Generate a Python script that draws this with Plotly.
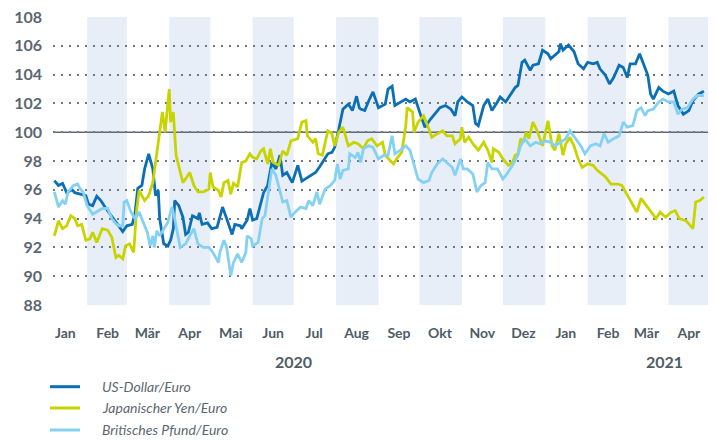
import pandas as pd
import plotly.graph_objects as go

# ---- data (day = days since 2020-01-01, value = index) ----
usd_days = [7,10,13,16,20,22,26,30,32,35,38,41,44,48,50,54,57,60,64,66,68,71,73,76,79,81,83,84,87,90,92,94,95,98,101,103,105,108,112,113,115,119,122,126,130,133,137,139,143,144,148,150,152,155,157,160,163,166,169,172,174,177,181,185,188,193,198,201,207,210,212,215,218,222,225,228,230,231,234,237,240,244,249,251,254,256,260,264,267,271,275,278,282,286,289,293,297,300,302,305,309,313,315,317,321,324,327,331,333,337,340,344,346,349,351,355,357,361,364,368,370,373,376,377,379,383,387,390,394,397,401,404,406,410,413,416,420,423,426,428,432,435,438,441,443,445,449,452,456,460,463,467,471,474,478,482]
usd_vals = [96.64,96.3,96.45,95.8,96.0,95.8,95.7,95.6,95.0,94.9,95.55,95.25,94.8,94.3,94.0,93.5,93.1,93.5,93.6,94.4,96.1,96.3,97.45,98.5,97.45,95.6,95.95,94.0,92.25,92.1,92.5,93.3,95.25,94.9,94.1,92.9,93.05,94.2,94.0,94.4,93.6,93.7,93.3,93.4,94.8,94.0,92.9,93.6,93.5,93.3,93.9,94.7,93.9,94.0,94.7,95.8,96.3,97.9,97.45,98.4,97.0,97.2,96.5,97.7,96.6,96.9,97.2,97.6,98.5,98.6,98.95,100.2,101.6,101.95,101.5,102.5,101.7,101.6,101.5,102.2,102.8,101.7,101.95,103.0,103.2,101.85,102.1,102.3,102.1,102.3,101.15,100.35,100.9,101.4,101.7,101.85,101.6,101.15,102.1,102.45,102.1,101.85,100.6,100.45,101.85,102.3,101.5,102.1,102.45,102.1,102.55,103.1,103.25,104.85,105.0,104.3,104.65,104.75,105.7,105.45,105.1,105.35,105.6,106.15,105.7,106.05,105.6,104.75,104.4,104.85,104.75,104.85,104.4,103.95,103.35,103.8,104.65,104.5,103.8,104.75,104.75,105.45,104.65,103.95,102.65,102.3,103.1,102.85,102.65,102.85,101.85,101.25,101.5,102.2,102.65,102.85]

jpy_days = [7,10,13,16,19,22,24,27,30,33,35,38,42,46,49,52,54,57,59,62,65,67,69,73,76,79,82,86,88,91,92,94,96,101,104,106,109,112,116,120,121,123,127,129,131,134,136,138,141,144,147,150,152,155,158,160,163,165,167,171,174,177,180,185,188,191,192,196,198,200,203,205,207,210,212,215,218,222,226,229,231,233,236,239,243,247,249,253,255,258,261,264,265,269,270,273,277,281,283,287,291,294,298,300,304,305,307,310,313,317,321,324,327,328,332,335,339,342,344,346,348,350,352,354,357,360,364,368,371,373,376,379,381,384,387,390,393,397,401,404,406,410,414,419,422,426,430,433,436,439,443,447,450,454,458,461,464,469,474,476,479,482]
jpy_vals = [92.8,93.85,93.3,93.5,94.2,94.0,93.5,93.6,92.5,92.6,93.05,92.35,93.3,93.2,92.7,91.3,91.45,91.2,92.1,92.25,91.65,94.45,95.95,95.25,95.6,96.5,98.6,101.4,100.0,103.0,100.7,101.4,98.4,96.5,96.9,97.2,96.3,95.85,95.85,96.05,97.2,96.2,95.95,95.5,96.5,96.65,95.7,96.45,96.2,97.9,98.0,98.5,98.25,98.15,98.7,98.85,97.8,98.85,97.9,97.7,98.7,98.4,99.4,99.55,100.7,100.8,99.75,99.3,99.55,98.5,98.4,99.3,100.1,99.9,99.05,100.0,100.35,99.05,99.3,99.2,99.05,98.85,99.4,99.55,99.05,99.3,98.4,98.0,97.8,98.25,98.6,100.45,101.7,101.4,100.0,100.7,101.15,100.2,99.65,99.9,100.1,99.75,99.75,99.2,99.55,100.35,99.3,99.65,99.2,98.75,99.3,98.75,97.9,98.85,98.6,98.15,97.7,97.9,98.4,98.5,99.55,99.3,100.0,99.55,100.7,100.1,99.05,100.8,99.05,98.75,99.9,98.4,99.2,99.65,99.05,98.15,97.55,97.8,97.7,97.35,97.2,96.9,96.4,96.4,96.3,95.6,95.0,94.45,95.4,95.0,94.55,94.0,94.45,94.1,94.45,94.55,94.0,93.85,93.3,95.15,95.25,95.5]

gbp_days = [7,10,13,15,17,21,24,26,28,31,35,38,42,46,49,52,54,57,58,60,63,66,69,72,75,77,79,80,82,84,87,90,93,95,99,103,106,109,112,116,120,123,127,128,131,133,136,138,141,144,147,148,151,152,156,159,161,163,166,169,171,174,177,180,183,187,191,193,196,199,201,205,209,212,214,216,218,222,223,227,229,231,233,237,240,244,248,251,254,256,260,264,267,270,273,277,281,283,287,291,294,298,300,304,306,309,313,316,319,322,324,327,331,335,338,342,346,348,351,355,359,362,366,370,373,377,381,384,388,392,395,399,403,406,409,412,416,420,423,426,430,433,436,439,441,445,449,452,456,460,463,466,470,474,477,482]
gbp_vals = [95.85,94.8,95.25,95.0,95.85,96.3,96.4,96.05,95.85,94.9,94.3,94.45,94.7,94.7,94.0,93.65,93.5,93.5,95.15,95.25,94.45,94.0,94.45,93.75,93.05,92.1,92.8,92.0,93.15,92.8,93.3,93.75,94.8,94.0,92.0,92.25,92.8,93.3,92.25,92.0,92.0,91.65,90.95,91.65,92.5,92.0,90.05,90.95,91.55,90.95,91.65,92.8,92.6,92.1,92.35,94.0,94.2,95.6,97.45,97.0,96.3,95.15,95.25,94.1,94.45,94.8,94.7,95.25,94.9,95.85,95.0,96.05,96.3,96.65,97.8,96.75,97.35,97.45,98.5,98.25,98.6,97.9,98.85,99.05,98.95,98.15,98.4,98.4,99.75,98.5,98.75,99.05,98.75,97.7,96.75,96.5,96.65,97.2,97.8,98.15,97.9,97.55,97.0,98.15,97.45,97.45,97.1,95.85,96.3,96.5,97.9,97.45,97.45,96.75,97.1,97.7,98.4,99.05,99.55,99.05,99.3,99.2,99.4,99.3,99.05,99.3,99.55,100.1,99.55,99.05,98.5,99.05,99.2,99.05,99.9,99.3,99.55,99.75,100.7,100.35,100.45,101.5,101.7,101.15,101.5,101.6,102.1,102.3,102.1,102.1,101.25,101.6,101.7,102.3,102.55,102.55]

series_names = ["US-Dollar/Euro", "Japanischer Yen/Euro", "Britisches Pfund/Euro"]
series_colors = ["#0b6fb6", "#c8d400", "#85d1f4"]

month_labels = ["Jan", "Feb", "Mär", "Apr", "Mai", "Jun", "Jul", "Aug", "Sep", "Okt", "Nov", "Dez",
                "Jan", "Feb", "Mär", "Apr"]
year_labels = ["2020", "2021"]
y_ticks = list(range(88, 110, 2))

TXT = "#4f5c66"
FONT = "Lato"

base = pd.Timestamp("2020-01-01")
def to_dates(days):
    return [base + pd.Timedelta(days=d) for d in days]

month_starts = pd.date_range("2020-01-01", "2021-05-01", freq="MS")
tick_pos = [m + pd.Timedelta(days=15) for m in month_starts[:16]]

fig = go.Figure()
for days, vals, name, col in zip([usd_days, jpy_days, gbp_days], [usd_vals, jpy_vals, gbp_vals],
                                 series_names, series_colors):
    fig.add_trace(go.Scatter(x=to_dates(days), y=vals, mode="lines", name=name,
                             line=dict(color=col, width=2.8), showlegend=False))

# shaded alternate months
for i in range(1, 16, 2):
    fig.add_shape(type="rect", xref="x", yref="paper", x0=month_starts[i], x1=month_starts[i + 1],
                  y0=0, y1=1, fillcolor="#e7eef8", line_width=0, layer="below")
# reference line at 100
fig.add_shape(type="line", xref="paper", yref="y", x0=0, x1=1, y0=100, y1=100,
              line=dict(color="#5f6b74", width=1.5), layer="between")

# year labels
for yl, xd in zip(year_labels, [pd.Timestamp("2020-07-01"), pd.Timestamp("2021-03-29")]):
    fig.add_annotation(x=xd, xref="x", y=0, yref="paper", yshift=-56,
                       xanchor="center", yanchor="middle",
                       text=yl, showarrow=False,
                       font=dict(family=FONT, size=16, color=TXT, weight="bold"))

# manual legend below the chart
leg_y = [-0.2837, -0.3576, -0.434]
for name, col, ly in zip(series_names, series_colors, leg_y):
    fig.add_shape(type="line", xref="paper", yref="paper", x0=-0.0046, x1=0.0412, y0=ly, y1=ly,
                  line=dict(color=col, width=3))
    fig.add_annotation(x=0.0718, xref="paper", y=ly, yref="paper", xanchor="left", yanchor="middle",
                       text=name, showarrow=False,
                       font=dict(family=FONT, size=14, color="#5b6770", style="italic"))

# figure is shifted by the page's 8px body margin, so size and margins compensate
fig.update_layout(
    width=709, height=433,
    margin=dict(l=45, r=9, t=9, b=136),
    plot_bgcolor="white", paper_bgcolor="white",
    font=dict(family=FONT, color=TXT),
    showlegend=False,
    xaxis=dict(range=[pd.Timestamp("2020-01-07"), pd.Timestamp("2021-04-30")],
               tickmode="array", tickvals=tick_pos, ticktext=month_labels,
               showgrid=False, zeroline=False, showline=False, ticks="",
               automargin=False, ticklabelstandoff=18, ticklabeloverflow="allow",
               tickfont=dict(family=FONT, size=14, color=TXT, weight="bold")),
    yaxis=dict(range=[88, 108], tickmode="array", tickvals=y_ticks,
               showgrid=True, gridcolor="#6f7880", gridwidth=2, griddash="2px,6px",
               zeroline=False, showline=False, ticks="", automargin=False, ticklabelstandoff=10,
               ticklabeloverflow="allow",
               tickfont=dict(family=FONT, size=16, color="#5b6770", weight="bold")),
)

fig.write_html("out.html")
